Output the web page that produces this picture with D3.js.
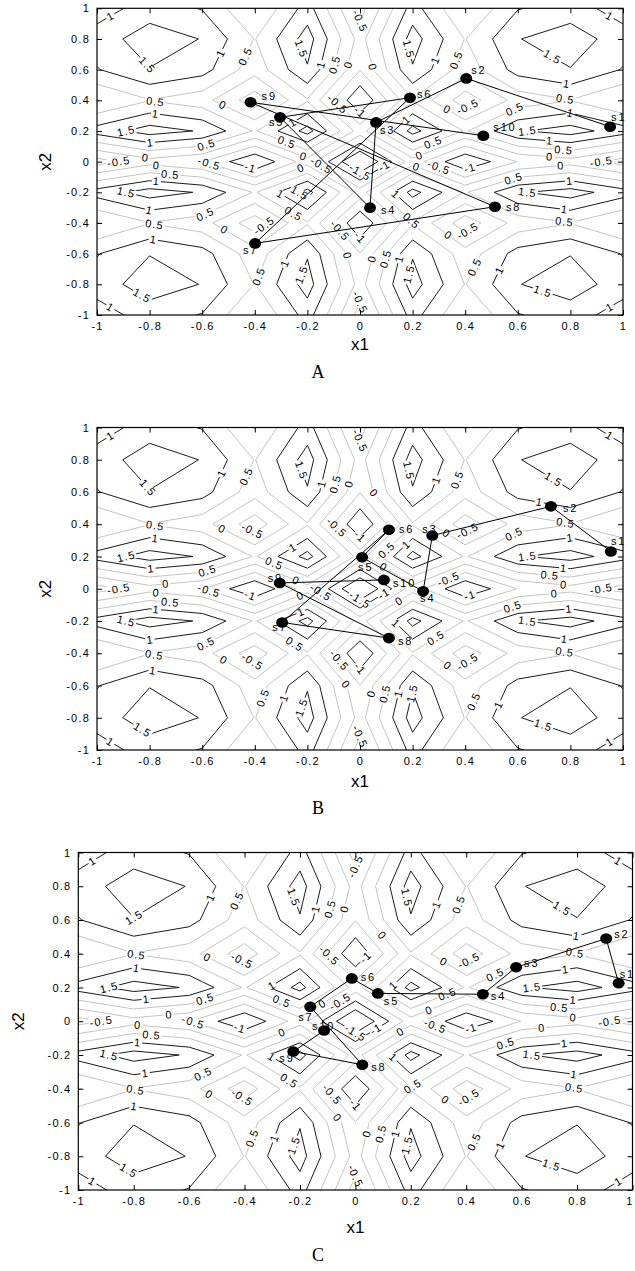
<!DOCTYPE html>
<html>
<head>
<meta charset="utf-8">
<script src="https://cdn.jsdelivr.net/npm/d3@7"></script>
<style>
  body { margin: 0; background: #fff; }
  svg { display: block; }
  .tick text { font-family: "Liberation Sans", Arial, sans-serif; font-size: 11px; letter-spacing: 1.2px; fill: #000; }
  .clabel { font-family: "Liberation Sans", Arial, sans-serif; font-size: 11px; letter-spacing: 1.1px; fill: #000; }
  .slabel { font-family: "Liberation Sans", Arial, sans-serif; font-size: 11px; letter-spacing: 1.8px; fill: #000; }
  .axis-title { font-family: "Liberation Sans", Arial, sans-serif; font-size: 17px; fill: #000; }
  .caption { font-family: "Liberation Serif", "Times New Roman", serif; font-size: 18px; fill: #000; }
</style>
</head>
<body>
<svg id="fig" width="635" height="1271"></svg>
<script>
// Sample positions of the field on both axes
const gridCoords = [-1, -0.8, -0.6, -0.4, -0.2, 0, 0.2, 0.4, 0.6, 0.8, 1];

// Field values: one row per x2 (from x2 = -1 up to x2 = 1), columns follow x1
const fieldRows = [
  [0.74, 1.25, 0.97, -0.03, 1.22, -0.71, 1.22, -0.03, 0.97, 1.25, 0.74],
  [1.25, 1.76, 1.48, 0.48, 1.73, -0.20, 1.73, 0.48, 1.48, 1.76, 1.25],
  [0.97, 1.48, 1.20, 0.20, 1.45, -0.48, 1.45, 0.20, 1.20, 1.48, 0.97],
  [-0.03, 0.48, 0.20, -0.80, 0.45, -1.48, 0.45, -0.80, 0.20, 0.48, -0.03],
  [1.22, 1.73, 1.45, 0.45, 1.70, -0.23, 1.70, 0.45, 1.45, 1.73, 1.22],
  [-0.71, -0.20, -0.48, -1.48, -0.23, -2.16, -0.23, -1.48, -0.48, -0.20, -0.71],
  [1.22, 1.73, 1.45, 0.45, 1.70, -0.23, 1.70, 0.45, 1.45, 1.73, 1.22],
  [-0.03, 0.48, 0.20, -0.80, 0.45, -1.48, 0.45, -0.80, 0.20, 0.48, -0.03],
  [0.97, 1.48, 1.20, 0.20, 1.45, -0.48, 1.45, 0.20, 1.20, 1.48, 0.97],
  [1.25, 1.76, 1.48, 0.48, 1.73, -0.20, 1.73, 0.48, 1.48, 1.76, 1.25],
  [0.74, 1.25, 0.97, -0.03, 1.22, -0.71, 1.22, -0.03, 0.97, 1.25, 0.74]
];

const contourLevels = [-1.5, -1, -0.5, 0, 0.5, 1, 1.5];
const levelLabels = ["-1.5", "-1", "-0.5", "0", "0.5", "1", "1.5"];

const tickValues = [-1, -0.8, -0.6, -0.4, -0.2, 0, 0.2, 0.4, 0.6, 0.8, 1];
const tickLabels = ["-1", "-0.8", "-0.6", "-0.4", "-0.2", "0", "0.2", "0.4", "0.6", "0.8", "1"];

const stepNames = ["s1", "s2", "s3", "s4", "s5", "s6", "s7", "s8", "s9", "s10"];

// Search trajectory of run A
const runA_x1 = [0.951, 0.404, 0.061, 0.038, -0.304, 0.190, -0.399, 0.513, -0.416, 0.469];
const runA_x2 = [0.228, 0.543, 0.256, -0.300, 0.289, 0.417, -0.533, -0.294, 0.387, 0.169];

// Search trajectory of run B
const runB_x1 = [0.954, 0.726, 0.275, 0.240, 0.008, 0.110, -0.296, 0.110, -0.305, 0.091];
const runB_x2 = [0.231, 0.511, 0.330, -0.016, 0.195, 0.366, -0.209, -0.306, 0.036, 0.055];

// Search trajectory of run C
const runC_x1 = [0.950, 0.905, 0.580, 0.460, 0.081, -0.013, -0.163, 0.025, -0.224, -0.113];
const runC_x2 = [0.225, 0.490, 0.320, 0.160, 0.165, 0.254, 0.086, -0.258, -0.179, -0.055];

const panels = [
  { caption: "A", x1: runA_x1, x2: runA_x2, frame: [97, 8.3, 623, 315],
    xTitleY: 344, yTitleX: 45, captionY: 372,
    nudge: { s1: [1, -10], s2: [5, -8], s3: [4, 8], s4: [11, 2], s5: [-11, 5],
             s6: [7, -4], s7: [-12, 7], s8: [11, 0], s9: [11, -6], s10: [10, -9] } },
  { caption: "B", x1: runB_x1, x2: runB_x2, frame: [97, 427.5, 623, 750],
    xTitleY: 781, yTitleX: 45, captionY: 808,
    nudge: { s1: [0, -10], s2: [12, 2], s3: [-10, -6], s4: [-3, 7], s5: [-4, 10],
             s6: [10, -1], s7: [-10, 5], s8: [9, 3], s9: [-12, -5], s10: [9, 3] } },
  { caption: "C", x1: runC_x1, x2: runC_x2, frame: [78.3, 852.5, 632.5, 1190],
    xTitleY: 1227, yTitleX: 18, captionY: 1255,
    nudge: { s1: [1, -9], s2: [8, -4], s3: [8, -4], s4: [8, 2], s5: [6, 8],
             s6: [9, -1], s7: [-12, 10], s8: [9, 2], s9: [-14, 7], s10: [-12, -4] } }
];

const svg = d3.select("#fig");
const svgWidth = +svg.attr("width");
const flatValues = fieldRows.flat();
const nx = gridCoords.length, ny = fieldRows.length;
const contourSets = d3.contours().size([nx, ny]).thresholds(contourLevels)(flatValues);

// contour grid index (cell-centred) -> data coordinate
const idxX = d3.scaleLinear().domain([0.5, nx - 0.5]).range([gridCoords[0], gridCoords[nx - 1]]);
const idxY = d3.scaleLinear().domain([0.5, ny - 0.5]).range([gridCoords[0], gridCoords[ny - 1]]);

const overlaps = (a, b) => a.x0 < b.x1 && a.x1 > b.x0 && a.y0 < b.y1 && a.y1 > b.y0;

panels.forEach((p, pi) => {
  const [L, T, R, B] = p.frame;
  const xs = d3.scaleLinear().domain([-1, 1]).range([L, R]);
  const ys = d3.scaleLinear().domain([-1, 1]).range([B, T]);
  const g = svg.append("g");

  const clipId = "clip" + pi;
  g.append("clipPath").attr("id", clipId)
    .append("rect").attr("x", L).attr("y", T).attr("width", R - L).attr("height", B - T);

  // layers, bottom to top
  const lineLayer = g.append("g").attr("clip-path", `url(#${clipId})`);
  const labelLayer = g.append("g");
  const axisLayer = g.append("g");
  const pathLayer = g.append("g");
  const stepLabelLayer = g.append("g");
  const markerLayer = g.append("g");

  const toPix = (X, Y) => [xs(idxX(X)), ys(idxY(Y))];
  const proj = d3.geoTransform({
    point(x, y) { const q = toPix(x, y); this.stream.point(q[0], q[1]); }
  });
  const geo = d3.geoPath(proj);
  const lineColor = v => Math.abs(v) >= 1 ? "#1a1a1a" : "#c4c4c4";

  // contour lines
  lineLayer.selectAll("path").data(contourSets).join("path")
    .attr("d", geo)
    .attr("fill", "none")
    .attr("stroke", d => lineColor(d.value))
    .attr("stroke-width", 1);

  // trajectory, markers and step names
  const pts = p.x1.map((v, i) => [xs(v), ys(p.x2[i])]);
  pathLayer.append("path").attr("d", d3.line()(pts))
    .attr("fill", "none").attr("stroke", "#000").attr("stroke-width", 1);
  const stepTexts = stepLabelLayer.selectAll("text").data(pts).join("text").attr("class", "slabel")
    .attr("x", (d, i) => d[0] + (p.nudge[stepNames[i]] || [8, -4])[0])
    .attr("y", (d, i) => d[1] + (p.nudge[stepNames[i]] || [8, -4])[1])
    .attr("dy", "0.35em")
    .text((d, i) => stepNames[i]);
  markerLayer.selectAll("ellipse").data(pts).join("ellipse")
    .attr("cx", d => d[0]).attr("cy", d => d[1]).attr("rx", 6).attr("ry", 5.3).attr("fill", "#000");

  // boxes that contour labels keep clear of
  const blocked = [];
  pts.forEach(d => blocked.push({ x0: d[0] - 7, x1: d[0] + 7, y0: d[1] - 6, y1: d[1] + 6 }));
  stepTexts.each(function () {
    const b = this.getBBox();
    blocked.push({ x0: b.x - 1, x1: b.x + b.width + 1, y0: b.y, y1: b.y + b.height });
  });

  // contour labels placed along the visible runs of each ring
  const tol = 0.6;
  const inside = q => q[0] >= L - tol && q[0] <= R + tol && q[1] >= T - tol && q[1] <= B + tol;
  const runsOf = ring => {
    const pp = ring.map(c => toPix(c[0], c[1]));
    const n = pp.length - 1;
    const segOk = i => inside(pp[i]) && inside(pp[(i + 1) % n]);
    let start = 0;
    for (let i = 0; i < n; i++) if (!segOk(i)) { start = i + 1; break; }
    const runs = [];
    let cur = null;
    for (let k = 0; k < n; k++) {
      const i = (start + k) % n;
      if (segOk(i)) {
        if (!cur) { cur = [pp[i]]; runs.push(cur); }
        cur.push(pp[(i + 1) % n]);
      } else cur = null;
    }
    return runs;
  };
  const pointAt = (run, cum, s) => {
    let i = 1;
    while (i < cum.length - 1 && cum[i] < s) i++;
    const a = run[i - 1], b = run[i];
    const f = (s - cum[i - 1]) / Math.max(1e-9, cum[i] - cum[i - 1]);
    let ang = Math.atan2(b[1] - a[1], b[0] - a[0]) * 180 / Math.PI;
    if (ang > 90) ang -= 180;
    if (ang < -90) ang += 180;
    return { x: a[0] + f * (b[0] - a[0]), y: a[1] + f * (b[1] - a[1]), ang };
  };

  contourSets.forEach(cs => {
    const text = levelLabels[contourLevels.indexOf(cs.value)];
    const w = text.length * 6.2;
    cs.coordinates.forEach(poly => poly.forEach(ring => {
      runsOf(ring).forEach(run => {
        const cum = [0];
        for (let i = 1; i < run.length; i++)
          cum.push(cum[i - 1] + Math.hypot(run[i][0] - run[i - 1][0], run[i][1] - run[i - 1][1]));
        const total = cum[cum.length - 1];
        if (total < 22) return;
        const spots = [];
        if (total < 150) spots.push(total * 0.5);
        else for (let s = 60; s < total - 35; s += 150) spots.push(s);
        spots.forEach(s0 => {
          const tries = [0, 14, -14, 28, -28, 42, -42];
          for (const dt of tries) {
            const s = s0 + dt;
            if (s < 8 || s > total - 8) continue;
            const q = pointAt(run, cum, s);
            if (q.x < L + 6 || q.x > R - 6 || q.y < T + 5 || q.y > B - 5) continue;
            const rad = q.ang * Math.PI / 180;
            const hx = Math.abs(Math.cos(rad)) * w / 2 + Math.abs(Math.sin(rad)) * 4;
            const hy = Math.abs(Math.sin(rad)) * w / 2 + Math.abs(Math.cos(rad)) * 4;
            const box = { x0: q.x - hx, x1: q.x + hx, y0: q.y - hy, y1: q.y + hy };
            if (blocked.some(b => overlaps(b, box))) continue;
            blocked.push(box);
            const lg = labelLayer.append("g").attr("transform", `translate(${q.x},${q.y}) rotate(${q.ang})`);
            const bg = lg.append("rect").attr("fill", "#fff");
            const t = lg.append("text").attr("class", "clabel")
              .attr("text-anchor", "middle").attr("dy", "0.35em").text(text);
            const tw = t.node().getComputedTextLength();
            bg.attr("x", -tw / 2 - 1).attr("y", -4).attr("width", tw + 2).attr("height", 8);
            break;
          }
        });
      });
    }));
  });

  // frame with mirrored inward ticks
  const axB = d3.axisBottom(xs).tickValues(tickValues).tickSize(-5).tickPadding(7)
    .tickFormat((d, i) => tickLabels[i]);
  const axL = d3.axisLeft(ys).tickValues(tickValues).tickSize(-5).tickPadding(7)
    .tickFormat((d, i) => tickLabels[i]);
  const axT = d3.axisTop(xs).tickValues(tickValues).tickSize(-5).tickFormat("");
  const axR = d3.axisRight(ys).tickValues(tickValues).tickSize(-5).tickFormat("");
  [[axB, `translate(0,${B})`], [axL, `translate(${L},0)`], [axT, `translate(0,${T})`], [axR, `translate(${R},0)`]]
    .forEach(([ax, tr]) => {
      const ga = axisLayer.append("g").attr("transform", tr).call(ax);
      ga.select(".domain").remove();
      ga.selectAll(".tick line").attr("stroke", "#000");
    });
  // keep tick labels inside the page
  axisLayer.selectAll(".tick text").each(function () {
    const b = this.getBBox();
    const ctm = this.getCTM();
    const right = ctm.e + b.x + b.width;
    if (right > svgWidth - 1) d3.select(this).attr("x", -(right - svgWidth + 1.5));
  });
  axisLayer.append("rect").attr("x", L).attr("y", T).attr("width", R - L).attr("height", B - T)
    .attr("fill", "none").attr("stroke", "#000").attr("stroke-width", 1.2);

  // titles
  g.append("text").attr("class", "axis-title").attr("x", (L + R) / 2).attr("y", p.xTitleY)
    .attr("text-anchor", "middle").attr("dy", "0.35em").text("x1");
  g.append("text").attr("class", "axis-title")
    .attr("transform", `translate(${p.yTitleX},${(T + B) / 2}) rotate(-90)`)
    .attr("text-anchor", "middle").attr("dy", "0.35em").text("x2");
  g.append("text").attr("class", "caption").attr("x", 318).attr("y", p.captionY)
    .attr("text-anchor", "middle").attr("dy", "0.35em").text(p.caption);
});
</script>
</body>
</html>
